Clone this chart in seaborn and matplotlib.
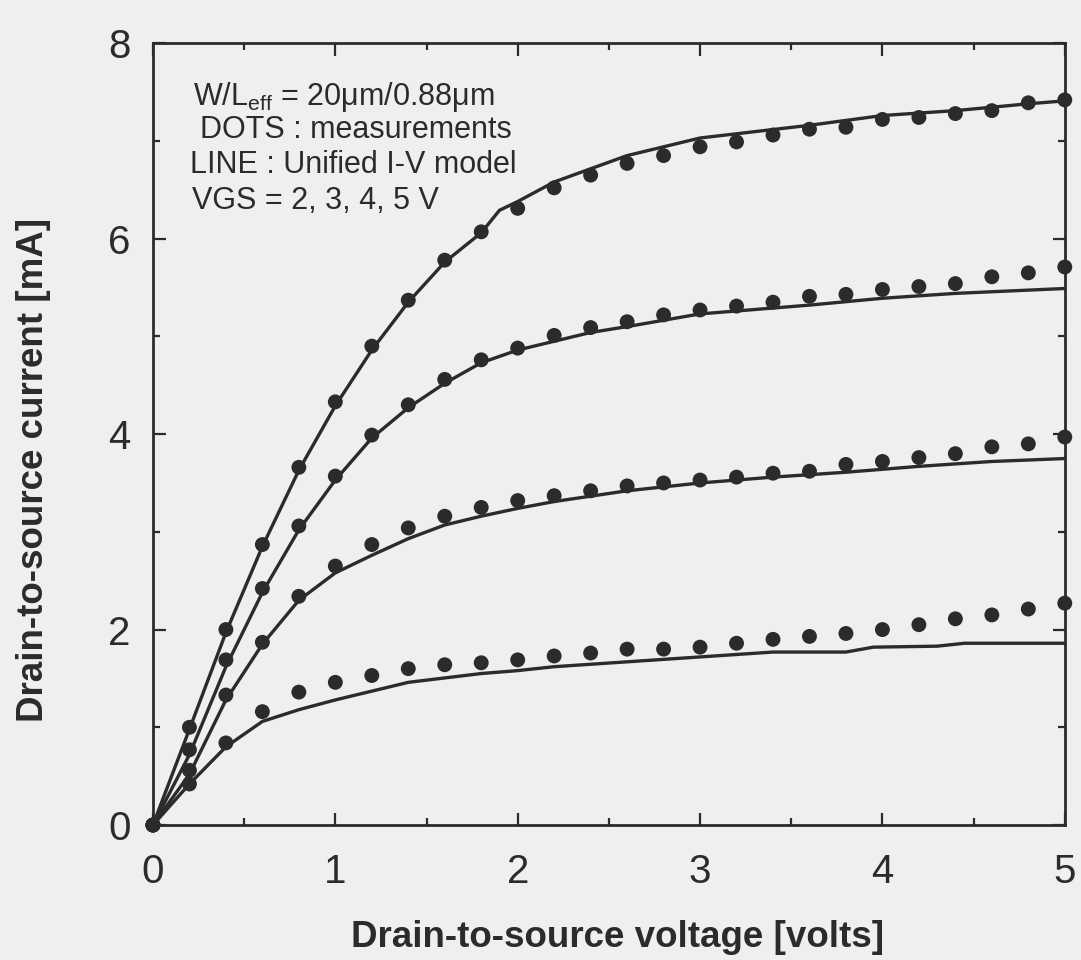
import numpy as np
import pandas as pd
import matplotlib
matplotlib.use("Agg")
import matplotlib.pyplot as plt
import seaborn as sns

# mediciones (puntos), Vds cada 0.2 V
vds_med = [0.0, 0.2, 0.4, 0.6, 0.8, 1.0, 1.2, 1.4, 1.6, 1.8, 2.0, 2.2, 2.4,
           2.6, 2.8, 3.0, 3.2, 3.4, 3.6, 3.8, 4.0, 4.2, 4.4, 4.6, 4.8, 5.0]
ids_med_5 = [0, 1.00, 2.00, 2.87, 3.66, 4.33, 4.90, 5.37, 5.78, 6.07, 6.31, 6.52, 6.65,
             6.77, 6.85, 6.94, 6.99, 7.06, 7.12, 7.14, 7.22, 7.24, 7.28, 7.31, 7.39, 7.42]
ids_med_4 = [0, 0.77, 1.69, 2.42, 3.06, 3.57, 3.99, 4.30, 4.56, 4.76, 4.88, 5.01, 5.09,
             5.15, 5.22, 5.27, 5.31, 5.35, 5.41, 5.43, 5.48, 5.51, 5.54, 5.61, 5.65, 5.71]
ids_med_3 = [0, 0.56, 1.33, 1.87, 2.34, 2.65, 2.87, 3.04, 3.16, 3.25, 3.32, 3.37, 3.42,
             3.47, 3.50, 3.53, 3.56, 3.60, 3.62, 3.69, 3.72, 3.76, 3.80, 3.87, 3.90, 3.97]
ids_med_2 = [0, 0.42, 0.84, 1.16, 1.36, 1.46, 1.53, 1.60, 1.64, 1.66, 1.69, 1.73, 1.76,
             1.80, 1.80, 1.82, 1.86, 1.90, 1.93, 1.96, 2.00, 2.05, 2.11, 2.15, 2.21, 2.27]

# modelo unificado (lineas)
vds_mod_5 = [0, 0.2, 0.4, 0.6, 0.8, 1.0, 1.2, 1.4, 1.6, 1.8, 1.9, 2.0, 2.2, 2.6, 3.0, 3.6, 4.0, 4.4, 4.8, 5.0]
ids_mod_5 = [0, 0.98, 1.97, 2.85, 3.63, 4.29, 4.86, 5.35, 5.76, 6.06, 6.29, 6.38, 6.58, 6.85, 7.03, 7.16, 7.26, 7.31, 7.38, 7.41]
vds_mod_4 = [0, 0.2, 0.4, 0.6, 0.8, 1.0, 1.2, 1.4, 1.6, 1.8, 2.0, 2.2, 2.4, 2.6, 3.0, 3.6, 4.0, 4.4, 5.0]
ids_mod_4 = [0, 0.72, 1.62, 2.38, 3.02, 3.53, 3.96, 4.27, 4.52, 4.73, 4.86, 4.95, 5.04, 5.10, 5.23, 5.32, 5.39, 5.44, 5.49]
vds_mod_3 = [0, 0.2, 0.4, 0.6, 0.8, 1.0, 1.2, 1.4, 1.6, 1.8, 2.0, 2.2, 2.6, 3.0, 3.4, 3.8, 4.2, 4.6, 5.0]
ids_mod_3 = [0, 0.52, 1.28, 1.85, 2.30, 2.58, 2.76, 2.93, 3.07, 3.16, 3.24, 3.31, 3.42, 3.50, 3.56, 3.61, 3.67, 3.72, 3.75]
vds_mod_2 = [0, 0.2, 0.4, 0.6, 0.8, 1.0, 1.4, 1.8, 2.0, 2.2, 2.6, 3.0, 3.4, 3.8, 3.95, 4.3, 4.45, 5.0]
ids_mod_2 = [0, 0.42, 0.80, 1.06, 1.18, 1.28, 1.46, 1.55, 1.58, 1.62, 1.67, 1.72, 1.77, 1.77, 1.82, 1.83, 1.86, 1.86]

vgs = [2, 3, 4, 5]
med = {2: ids_med_2, 3: ids_med_3, 4: ids_med_4, 5: ids_med_5}
mod = {2: (vds_mod_2, ids_mod_2), 3: (vds_mod_3, ids_mod_3),
       4: (vds_mod_4, ids_mod_4), 5: (vds_mod_5, ids_mod_5)}

df_med = pd.concat([pd.DataFrame({'Vds': vds_med, 'Ids': med[v], 'VGS': v}) for v in vgs])
df_mod = pd.concat([pd.DataFrame({'Vds': mod[v][0], 'Ids': mod[v][1], 'VGS': v}) for v in vgs])

tinta = '#2b2b2b'
fondo = '#efefef'

sns.set_style("ticks")
plt.rcParams['font.family'] = ['Liberation Sans', 'DejaVu Sans']
plt.rcParams['mathtext.fontset'] = 'custom'
plt.rcParams['mathtext.rm'] = 'Liberation Sans'
plt.rcParams['text.color'] = tinta

fig = plt.figure(figsize=(10.81, 9.6), dpi=100, facecolor=fondo)
ax = fig.add_axes([0.1415, 0.1406, 0.8435, 0.8144], facecolor=fondo)

for v in vgs:
    sns.lineplot(data=df_mod[df_mod.VGS == v], x='Vds', y='Ids', sort=False, estimator=None,
                 color=tinta, lw=2.4, ax=ax)
sns.scatterplot(data=df_med, x='Vds', y='Ids', color=tinta, s=115, edgecolor='none',
                ax=ax, zorder=3, clip_on=False)

ax.set_xlim(0, 5)
ax.set_ylim(0, 8)
ax.set_xticks([0, 1, 2, 3, 4, 5])
ax.set_yticks([0, 2, 4, 6, 8])
ax.set_xticks([0.5, 1.5, 2.5, 3.5, 4.5], minor=True)
ax.set_yticks([1, 3, 5, 7], minor=True)
ax.tick_params(which='both', direction='in', top=True, right=True, color=tinta,
               labelsize=29, labelcolor=tinta, width=1.6)
ax.tick_params(which='major', length=9)
ax.tick_params(which='minor', length=5)
ax.tick_params(axis='x', which='major', pad=20)
ax.tick_params(axis='y', which='major', pad=16)
for s in ax.spines.values():
    s.set_linewidth(2.0)
    s.set_color(tinta)

ax.set_xlabel('Drain-to-source voltage [volts]', fontsize=26.5, fontweight='bold', color=tinta)
ax.set_ylabel('Drain-to-source current [mA]', fontsize=26.5, fontweight='bold', color=tinta)
ax.xaxis.set_label_coords(0.509, -0.121)
ax.yaxis.set_label_coords(-0.112, 0.454)

fs_txt = 22
ax.text(0.044, 0.931, r'W/L$_{\mathrm{eff}}$ = 20μm/0.88μm', transform=ax.transAxes,
        fontsize=fs_txt, va='center')
ax.text(0.052, 0.889, 'DOTS : measurements', transform=ax.transAxes, fontsize=fs_txt, va='center')
ax.text(0.041, 0.844, 'LINE : Unified I-V model', transform=ax.transAxes, fontsize=fs_txt, va='center')
ax.text(0.043, 0.798, 'VGS = 2, 3, 4, 5 V', transform=ax.transAxes, fontsize=fs_txt, va='center')

fig.savefig('out.png', dpi=100, facecolor=fondo)
